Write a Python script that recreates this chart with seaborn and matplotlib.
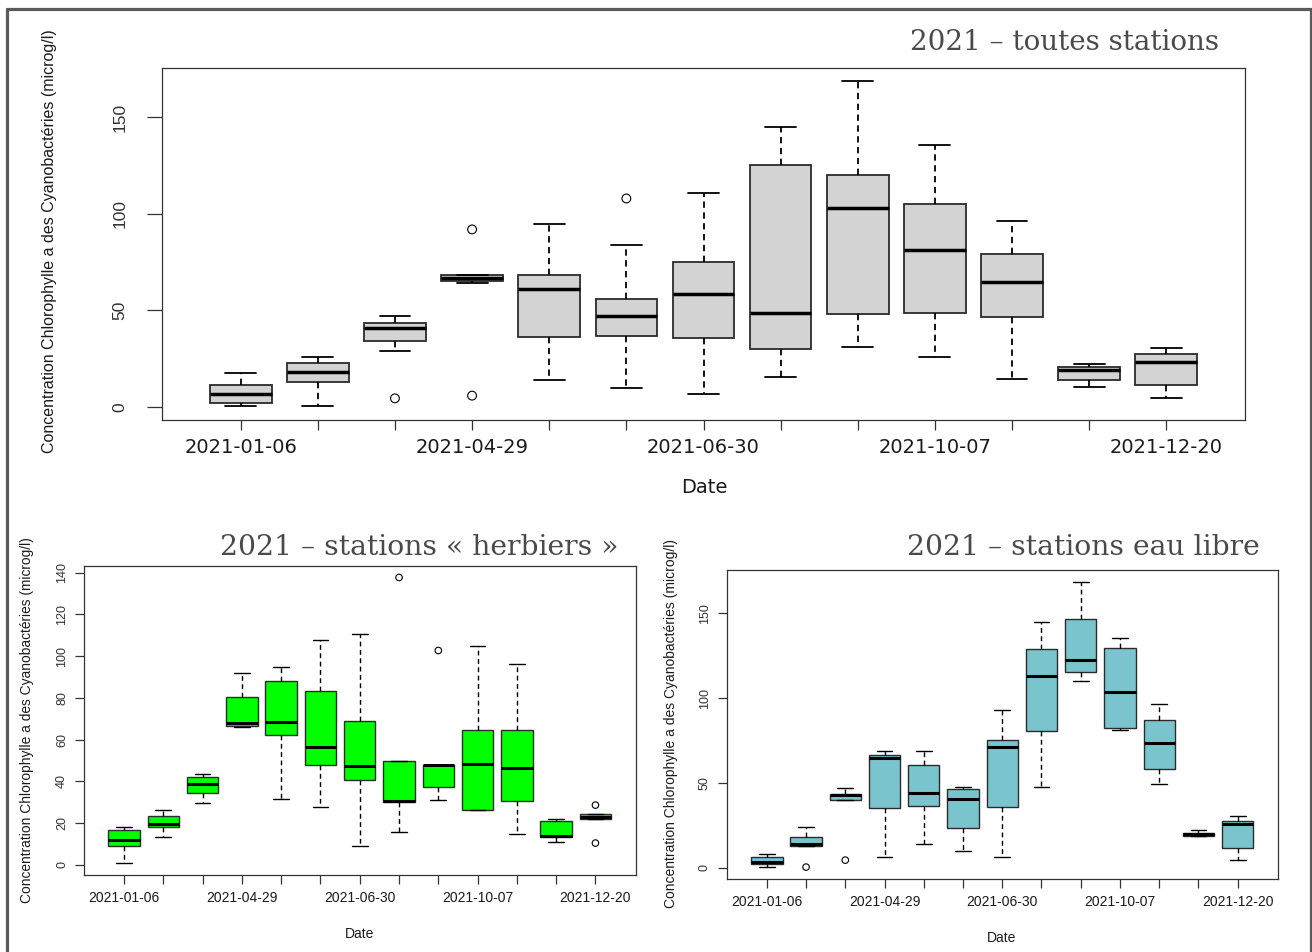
import numpy as np
import pandas as pd
import matplotlib
matplotlib.use("Agg")
import matplotlib.pyplot as plt
from matplotlib.lines import Line2D
import seaborn as sns

# ---------------- data ----------------
campagnes = list(range(1, 14))
tick_labels = ["2021-01-06", "", "", "2021-04-29", "", "", "2021-06-30", "", "",
               "2021-10-07", "", "", "2021-12-20"]

# 2021 - toutes stations
all_lo  = [0.3, 0.3, 29.0, 64.3, 14.1, 9.7, 6.6, 15.7, 31.0, 25.9, 14.3, 10.5, 4.5]
all_q1  = [1.9, 13.1, 34.1, 65.3, 36.0, 36.7, 35.7, 30.0, 48.1, 48.4, 46.6, 13.8, 11.6]
all_med = [6.9, 18.3, 40.9, 66.9, 61.2, 47.1, 58.3, 48.4, 102.8, 81.4, 64.8, 19.3, 23.4]
all_q3  = [11.6, 22.9, 43.3, 68.1, 68.4, 56.0, 75.0, 125.3, 120.3, 104.8, 79.1, 20.9, 27.4]
all_hi  = [17.8, 25.9, 46.9, 68.4, 94.5, 83.8, 110.5, 144.8, 168.8, 135.5, 96.2, 22.4, 30.7]
all_out_idx = [2, 3, 3, 5]
all_out_val = [4.5, 91.9, 5.9, 107.9]

# 2021 - stations « herbiers »
her_lo  = [0.8, 13.3, 29.4, 66.2, 31.6, 27.5, 9.1, 15.8, 31.2, 26.2, 14.7, 10.7, 21.9]
her_q1  = [9.1, 18.1, 34.2, 66.5, 62.0, 47.8, 40.4, 29.9, 37.1, 26.2, 30.4, 13.3, 21.9]
her_med = [11.7, 19.7, 38.8, 67.8, 68.6, 56.6, 47.3, 30.4, 47.8, 48.4, 46.3, 13.9, 23.0]
her_q3  = [16.9, 23.2, 42.0, 80.2, 88.2, 83.4, 69.0, 49.5, 47.9, 64.6, 64.7, 21.1, 24.4]
her_hi  = [17.9, 26.2, 43.6, 92.0, 94.6, 107.9, 110.4, 49.5, 47.9, 104.8, 96.0, 22.1, 24.4]
her_out_idx = [7, 8, 12, 12]
her_out_val = [137.7, 102.7, 28.6, 10.4]

# 2021 - stations eau libre
lib_lo  = [0.2, 12.8, 39.9, 6.1, 14.3, 9.6, 6.5, 47.4, 110.3, 81.2, 49.1, 18.7, 4.5]
lib_q1  = [2.0, 12.8, 39.9, 35.4, 36.4, 23.6, 35.8, 80.4, 115.2, 82.2, 58.4, 18.7, 11.6]
lib_med = [3.5, 14.0, 42.6, 64.7, 43.8, 40.3, 71.0, 113.2, 122.6, 103.4, 73.7, 19.9, 25.6]
lib_q3  = [6.1, 18.3, 43.4, 66.4, 60.7, 46.2, 75.1, 128.9, 146.6, 129.3, 87.3, 20.6, 27.5]
lib_hi  = [7.9, 24.2, 47.2, 68.6, 68.6, 47.8, 93.2, 144.7, 168.6, 135.6, 96.3, 22.4, 30.7]
lib_out_idx = [1, 2]
lib_out_val = [0.4, 4.5]

ylabel = "Concentration Chlorophylle a des Cyanobactéries (microg/l)"

# ---------------- figure ----------------
W, H = 1312, 952
sns.set_style("ticks")
plt.rcParams["font.family"] = ["Liberation Sans", "DejaVu Sans"]
fig = plt.figure(figsize=(W / 100, H / 100), dpi=100)
fig.patch.set_facecolor("white")


def px_axes(left, top, right, bottom):
    return fig.add_axes([left / W, 1 - bottom / H, (right - left) / W, (bottom - top) / H])


def panel(ax, lo, q1, med, q3, hi, out_idx, out_val, fill, yticks, ylim, sty):
    rows = []
    for i, c in enumerate(campagnes):
        for v in (lo[i], q1[i], med[i], q3[i], hi[i]):
            rows.append((c, v))
    df = pd.DataFrame(rows, columns=["campagne", "valeur"])
    sns.boxplot(data=df, x="campagne", y="valeur", ax=ax, color=fill, saturation=1,
                width=0.8, whis=(0, 100), showfliers=False,
                linecolor="#2b2b2b", linewidth=sty["lw"],
                medianprops={"color": "black", "linewidth": sty["mlw"]},
                whiskerprops={"color": "black", "linestyle": (0, (3.5, 2.5)),
                              "linewidth": sty["lw"]},
                capprops={"color": "black", "linewidth": sty["lw"]})
    odf = pd.DataFrame({"pos": out_idx, "val": out_val})
    ax.scatter(odf["pos"], odf["val"], s=sty["ms"], facecolors="none",
               edgecolors="black", linewidths=0.8, zorder=5)
    ax.set_xlim(-1.02, 13.02)
    ax.set_ylim(*ylim)
    ax.set_xticks(range(13))
    ax.set_xticklabels(tick_labels)
    ax.set_yticks(yticks)
    ax.set_yticklabels([str(t) for t in yticks])
    for s in ax.spines.values():
        s.set_visible(True)
        s.set_color("#333333")
        s.set_linewidth(0.9)
    ax.tick_params(axis="x", length=sty["xtl"], width=0.9, color="#333333",
                   labelsize=sty["xfs"], pad=sty["xpad"], labelcolor="#1a1a1a")
    ax.tick_params(axis="y", length=sty["ytl"], width=0.9, color="#333333",
                   labelsize=sty["yfs"], pad=sty["ypad"], labelcolor="#333333",
                   labelrotation=90)
    for lab in ax.get_yticklabels():
        lab.set_va("center")
    for lab in ax.get_xticklabels():
        lab.set_family(sty["xfam"])
    ax.set_xlabel("")
    ax.set_ylabel("")
    ax.set_facecolor("white")


# top panel
ax1 = px_axes(162, 68, 1245, 420)
panel(ax1, all_lo, all_q1, all_med, all_q3, all_hi, all_out_idx, all_out_val,
      "#D3D3D3", [0, 50, 100, 150], (-6.7, 175.4),
      dict(lw=1.3, mlw=2.5, ms=40, xtl=7, ytl=11, xfs=14, yfs=12.5, xpad=6, ypad=14,
           xfam="DejaVu Sans"))

# bottom-left panel
ax2 = px_axes(84, 566, 635.5, 875)
panel(ax2, her_lo, her_q1, her_med, her_q3, her_hi, her_out_idx, her_out_val,
      "#00FF00", list(range(0, 141, 20)), (-4.9, 143.2),
      dict(lw=1.0, mlw=2.2, ms=22, xtl=6.5, ytl=6.5, xfs=10, yfs=9, xpad=5, ypad=5,
           xfam="Liberation Sans"))

# bottom-right panel
ax3 = px_axes(726.8, 570, 1277.7, 879.3)
panel(ax3, lib_lo, lib_q1, lib_med, lib_q3, lib_hi, lib_out_idx, lib_out_val,
      "#7AC5CD", [0, 50, 100, 150], (-6.8, 175.5),
      dict(lw=1.0, mlw=2.2, ms=22, xtl=6.5, ytl=6.5, xfs=10, yfs=9, xpad=5, ypad=5,
           xfam="Liberation Sans"))

# axis labels (placed in figure pixels)
def fx(x):
    return x / W


def fy(y):
    return 1 - y / H


fig.text(fx(50), fy(241), ylabel, rotation=90, ha="center", va="center",
         fontsize=11.5, color="#1a1a1a")
fig.text(fx(27.5), fy(720), ylabel, rotation=90, ha="center", va="center",
         fontsize=9.9, color="#1a1a1a")
fig.text(fx(671), fy(724), ylabel, rotation=90, ha="center", va="center",
         fontsize=10, color="#1a1a1a")
fig.text(fx(704), fy(488), "Date", ha="center", va="center", fontsize=14,
         family="DejaVu Sans", color="#1a1a1a")
fig.text(fx(360), fy(934), "Date", ha="center", va="center", fontsize=10,
         color="#1a1a1a")
fig.text(fx(1002), fy(938), "Date", ha="center", va="center", fontsize=10,
         color="#1a1a1a")

# panel titles
tkw = dict(family="DejaVu Serif", color="#4a4a4a", va="baseline", ha="center")
fig.text(fx(1065), fy(50), "2021 – toutes stations", fontsize=20, **tkw)
fig.text(fx(419.5), fy(555), "2021 – stations « herbiers »", fontsize=20.3, **tkw)
fig.text(fx(1083), fy(555), "2021 – stations eau libre", fontsize=20.3, **tkw)

# outer frame (bottom edge lies beyond the image)
fc = "#5a5a5a"
fig.add_artist(Line2D([fx(6.5), fx(6.5)], [fy(8.5), 0], color=fc, lw=2.3))
fig.add_artist(Line2D([fx(6.5), fx(1310.5)], [fy(8.5), fy(8.5)], color=fc, lw=2.3))
fig.add_artist(Line2D([fx(1310.5), fx(1310.5)], [fy(8.5), 0], color=fc, lw=2.3))

fig.savefig("out.png", dpi=100)
